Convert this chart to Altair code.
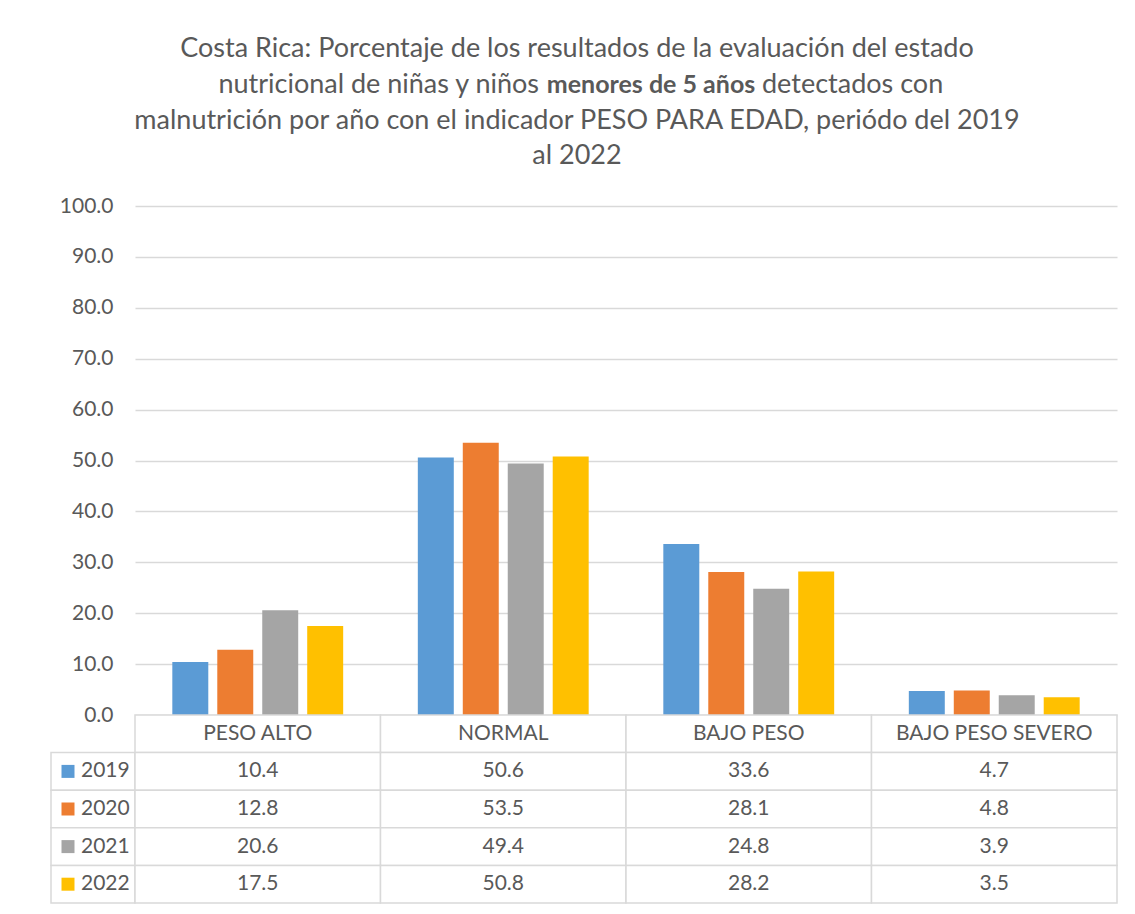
import altair as alt
import pandas as pd

categories = ["PESO ALTO", "NORMAL", "BAJO PESO", "BAJO PESO SEVERO"]
years = ["2019", "2020", "2021", "2022"]
v2019 = [10.4, 50.6, 33.6, 4.7]
v2020 = [12.8, 53.5, 28.1, 4.8]
v2021 = [20.6, 49.4, 24.8, 3.9]
v2022 = [17.5, 50.8, 28.2, 3.5]
series = [v2019, v2020, v2021, v2022]
colors = ["#5B9BD5", "#ED7D31", "#A5A5A5", "#FFC000"]
y_ticks = [0, 10, 20, 30, 40, 50, 60, 70, 80, 90, 100]

title_line1 = "Costa Rica: Porcentaje de los resultados de la evaluación del estado"
title_line2_a = "nutricional  de niñas y niños"
title_line2_b = "menores de 5 años"
title_line2_c = "detectados con"
title_line3 = "malnutrición por año con el indicador PESO PARA EDAD, periódo del 2019"
title_line4 = "al 2022"

FONT = "Lato"
TXT = "#595959"
GRID = "#D9D9D9"

rows = []
for yr, vals in zip(years, series):
    for c, v in zip(categories, vals):
        rows.append({"year": yr, "cat": c, "value": v})
df = pd.DataFrame(rows)

row_domain = [""] + years

xscale = alt.Scale(domain=categories, paddingInner=0, paddingOuter=0)

bars = alt.Chart(df).mark_bar().encode(
    x=alt.X("cat:N", sort=categories, scale=xscale,
            axis=alt.Axis(labels=False, ticks=False, title=None, domain=False, grid=False)),
    xOffset=alt.XOffset("year:N", sort=years,
                        scale=alt.Scale(domain=years, paddingInner=0.2, paddingOuter=0.83)),
    y=alt.Y("value:Q", scale=alt.Scale(domain=[0, 100], nice=False),
            axis=alt.Axis(values=y_ticks, format=".1f", title=None, domain=False, ticks=False,
                          grid=True, gridColor=GRID, gridWidth=1.5, labelFont=FONT,
                          labelFontSize=21, labelColor=TXT, labelPadding=22)),
    color=alt.Color("year:N", scale=alt.Scale(domain=years, range=colors), legend=None),
)

tdf = pd.DataFrame({"t": [0]})
TX = 442
def tline(text, y, bold=False, align="center", x=TX, size=27):
    return alt.Chart(tdf).mark_text(
        text=text, font=FONT, fontSize=size, color=TXT, align=align, baseline="alphabetic",
        fontWeight="bold" if bold else "normal",
    ).encode(x=alt.value(x), y=alt.value(y))

title_layers = [
    tline(title_line1, -149),
    tline(title_line2_a, -113, align="right", x=404),
    tline(title_line2_b, -113, bold=True, align="center", x=516, size=25),
    tline(title_line2_c, -113, align="left", x=627),
    tline(title_line3, -77),
    tline(title_line4, -42),
]

top = alt.layer(bars, *title_layers).properties(width=982, height=509)

spacer = alt.Chart(tdf).mark_point(opacity=0).encode(
    x=alt.value(0), y=alt.value(0)
).properties(width=84, height=509)

# table
trows = []
for c in categories:
    trows.append({"row": "", "cat": c, "txt": c})
for yr, vals in zip(years, series):
    for c, v in zip(categories, vals):
        trows.append({"row": yr, "cat": c, "txt": f"{v:.1f}"})
tab = pd.DataFrame(trows)

ty = alt.Y("row:N", sort=row_domain, scale=alt.Scale(domain=row_domain, paddingInner=0, paddingOuter=0), axis=None)
tx = alt.X("cat:N", sort=categories, scale=xscale, axis=None)

cells = alt.Chart(tab).mark_rect(fill="white", stroke=GRID, strokeWidth=1.5).encode(x=tx, y=ty)
ctext = alt.Chart(tab).mark_text(font=FONT, fontSize=21, color=TXT, baseline="middle").encode(
    x=tx, y=ty, text="txt:N")
table = alt.layer(cells, ctext).properties(width=982, height=188)

# legend column
ldf = pd.DataFrame({"row": years, "col": ["k"] * 4})
lx = alt.X("col:N", scale=alt.Scale(paddingInner=0, paddingOuter=0), axis=None)
lcells = alt.Chart(ldf).mark_rect(fill="white", stroke=GRID, strokeWidth=1.5).encode(x=lx, y=ty)
lsw = alt.Chart(ldf).mark_square(size=169, opacity=1).encode(
    x=lx, y=ty, xOffset=alt.value(17),
    color=alt.Color("row:N", scale=alt.Scale(domain=years, range=colors), legend=None))
ltext = alt.Chart(ldf).mark_text(font=FONT, fontSize=21, color=TXT, align="left", dx=-12,
                                 baseline="middle").encode(x=lx, y=ty, text="row:N")
legend_col = alt.layer(lcells, lsw, ltext).properties(width=84, height=188)

chart = alt.concat(spacer, top, legend_col, table, columns=2, spacing=0, bounds="flush").properties(
    padding={"left": 40, "top": 27, "right": 5, "bottom": 5},
    background="white",
).configure_view(stroke=None)

chart.save("out.html", embed_options={"renderer": "svg", "actions": False})
